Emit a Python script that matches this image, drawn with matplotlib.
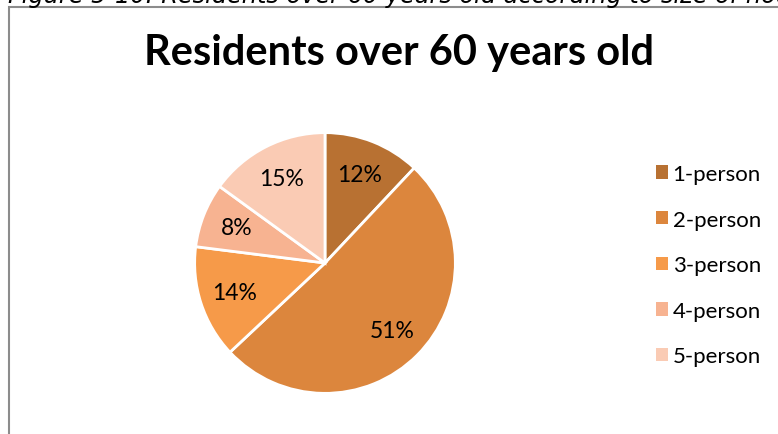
import matplotlib
matplotlib.use('Agg')
import matplotlib.pyplot as plt
from matplotlib.patches import Rectangle, Patch

# data
categories = ['1-person', '2-person', '3-person', '4-person', '5-person']
shares = [12, 51, 14, 8, 15]
colors = ['#B87132', '#DC863D', '#F69A49', '#F7B391', '#FACBB4']

title = 'Residents over 60 years old'
caption = 'Figure 5-10: Residents over 60 years old according to size of household'

W, H = 778, 435
fig = plt.figure(figsize=(W / 100, H / 100), dpi=100)

# chart frame (runs off the right and bottom edges)
fig.patches.append(Rectangle((9 / W, -0.05), 1.2, 1 - 8 / H + 0.05,
                             transform=fig.transFigure, fill=False,
                             edgecolor='#8c8c8c', linewidth=1.5))

# cropped caption above the frame
fig.text(8 / W, 1 - 3.5 / H, caption, fontsize=17.3, style='italic',
         family='DejaVu Sans', va='baseline', ha='left', color='black')

fig.text(399 / W, 1 - 53 / H, title, fontsize=30, fontweight='bold',
         family='Lato', ha='center', va='center')

# pie axes: center (325, 264), radius 131 px
cx, cy, r = 325, 264, 131
ax = fig.add_axes([(cx - r) / W, (H - cy - r) / H, 2 * r / W, 2 * r / H])
wedges, texts, autotexts = ax.pie(
    shares, colors=colors, startangle=90, counterclock=False,
    autopct='%d%%', pctdistance=0.73, radius=1,
    wedgeprops={'edgecolor': 'white', 'linewidth': 2},
    textprops={'fontsize': 16.5, 'family': 'Lato'})
ax.set_xlim(-1.005, 1.005)
ax.set_ylim(-1.005, 1.005)
ax.set_aspect('equal')
ax.axis('off')

handles = [Patch(facecolor=c, edgecolor='none') for c in colors]
leg = fig.legend(handles, categories, loc='upper left',
                 bbox_to_anchor=(636 / W, 1 - 145 / H), frameon=False,
                 prop={'family': 'Lato', 'size': 16},
                 handlelength=0.55, handleheight=0.55, handletextpad=0.2,
                 labelspacing=1.15)

fig.savefig('out.png', dpi=100)
